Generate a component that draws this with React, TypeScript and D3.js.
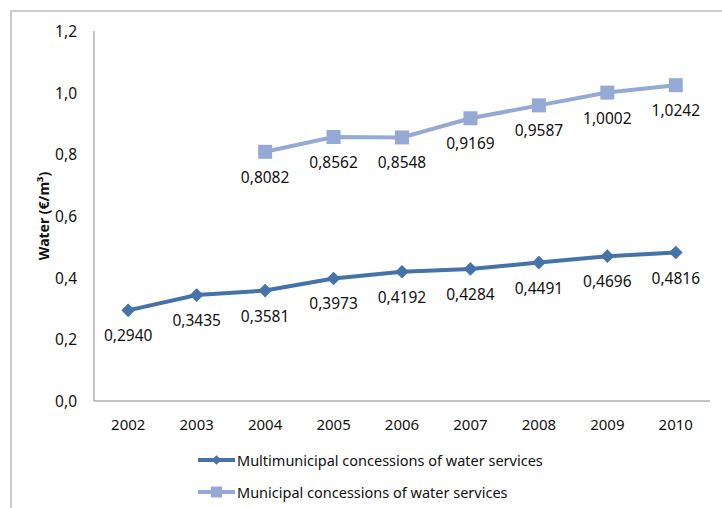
import React from "react";
import * as d3 from "d3";

const years = ["2002", "2003", "2004", "2005", "2006", "2007", "2008", "2009", "2010"];
const multimunicipal: (number | null)[] = [0.294, 0.3435, 0.3581, 0.3973, 0.4192, 0.4284, 0.4491, 0.4696, 0.4816];
const municipal: (number | null)[] = [null, null, 0.8082, 0.8562, 0.8548, 0.9169, 0.9587, 1.0002, 1.0242];
const yTicks = [0, 0.2, 0.4, 0.6, 0.8, 1.0, 1.2];
const seriesNames = ["Multimunicipal concessions of water services", "Municipal concessions of water services"];

const W = 722;
const H = 508;
const FONT = "'Noto Sans', 'Open Sans', sans-serif";
const DARK = "#4672AA";
const LIGHT = "#95A9D5";

export default function App() {
  const x = d3.scaleBand<string>().domain(years).range([94, 710]);
  const y = d3.scaleLinear().domain([0, 1.2]).range([401, 31]);
  const cx = (yr: string) => (x(yr) as number) + x.bandwidth() / 2;
  const fmt = (v: number) => v.toFixed(4).replace(".", ",");
  const fmtTick = (v: number) => v.toFixed(1).replace(".", ",");

  const line = d3
    .line<number | null>()
    .defined((d) => d !== null)
    .x((_, i) => cx(years[i]))
    .y((d) => y(d as number));

  const diamond = d3.symbol().type(d3.symbolDiamond2).size(120)();

  return (
    <svg width={W} height={H} style={{ position: "absolute", left: 0, top: 0 }} fontFamily={FONT}>
      <rect x={0} y={0} width={W} height={H} fill="#fff" />
      <rect x={11} y={11} width={W + 20} height={H + 20} fill="none" stroke="#BDBDBD" strokeWidth={1.5} />
      {/* axes */}
      <line x1={94} x2={94} y1={y(1.2)} y2={y(0)} stroke="#888" strokeWidth={1} />
      <line x1={94} x2={710} y1={y(0)} y2={y(0)} stroke="#888" strokeWidth={1} />
      {yTicks.map((t) => (
        <text key={t} x={77} y={y(t)} textAnchor="end" dominantBaseline="central" fontSize={15.5} fill="#111">
          {fmtTick(t)}
        </text>
      ))}
      {years.map((yr) => (
        <text key={yr} x={cx(yr)} y={424} textAnchor="middle" dominantBaseline="central" fontSize={15} fill="#111">
          {yr}
        </text>
      ))}
      <text
        transform={`translate(43,${(y(0) + y(1.2)) / 2}) rotate(-90)`}
        textAnchor="middle"
        dominantBaseline="central"
        fontSize={14}
        fontWeight="bold"
        fill="#111"
      >
        Water (€/m³)
      </text>
      {/* series */}
      <path d={line(municipal) || ""} fill="none" stroke={LIGHT} strokeWidth={4} />
      <path d={line(multimunicipal) || ""} fill="none" stroke={DARK} strokeWidth={4} />
      {municipal.map((v, i) =>
        v === null ? null : (
          <g key={"m" + i}>
            <rect x={cx(years[i]) - 7} y={y(v) - 7} width={14} height={14} fill={LIGHT} />
            <text x={cx(years[i])} y={y(v) + 25} textAnchor="middle" dominantBaseline="central" fontSize={15.5} fill="#111">
              {fmt(v)}
            </text>
          </g>
        )
      )}
      {multimunicipal.map((v, i) =>
        v === null ? null : (
          <g key={"d" + i}>
            <path d={diamond || ""} transform={`translate(${cx(years[i])},${y(v)})`} fill={DARK} />
            <text x={cx(years[i])} y={y(v) + 25} textAnchor="middle" dominantBaseline="central" fontSize={15.5} fill="#111">
              {fmt(v)}
            </text>
          </g>
        )
      )}
      {/* legend */}
      {seriesNames.map((name, i) => {
        const ly = 460 + i * 32;
        const color = i === 0 ? DARK : LIGHT;
        return (
          <g key={name}>
            <line x1={198} x2={235} y1={ly} y2={ly} stroke={color} strokeWidth={4} />
            {i === 0 ? (
              <path d={d3.symbol().type(d3.symbolDiamond2).size(60)() || ""} transform={`translate(216.5,${ly})`} fill={color} />
            ) : (
              <rect x={211} y={ly - 5.5} width={11} height={11} fill={color} />
            )}
            <text x={237} y={ly} dominantBaseline="central" fontSize={14.5} fill="#111">
              {name}
            </text>
          </g>
        );
      })}
    </svg>
  );
}
